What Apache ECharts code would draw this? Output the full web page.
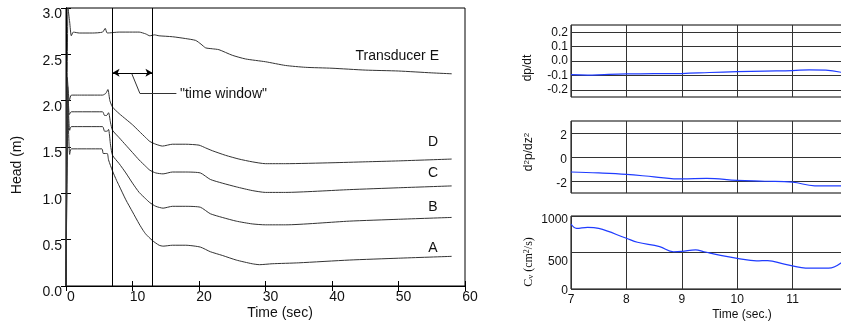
<!DOCTYPE html>
<html>
<head>
<meta charset="utf-8">
<script src="https://cdn.jsdelivr.net/npm/echarts@6/dist/echarts.min.js"></script>
<style>html,body{margin:0;padding:0;background:#fff}#chart{width:841px;height:324px}</style>
</head>
<body>
<div id="chart"></div>
<script>
// head records of the five transducers, [time (s), head (m)]
const headE = [[0,0],[0.3,3.0],[0.55,2.85],[0.8,2.70],[1.1,2.74],[2,2.73],[4,2.73],[5.5,2.74],[5.9,2.78],[6.2,2.73],[8,2.74],[10,2.74],[11,2.74],[12,2.72],[12.6,2.70],[13.3,2.71],[14,2.70],[16,2.69],[18,2.67],[19.5,2.65],[20.3,2.61],[21,2.57],[22,2.56],[23,2.55],[25,2.49],[27,2.45],[30,2.42],[33,2.38],[36,2.36],[40,2.35],[45,2.33],[50,2.32],[55,2.30],[58,2.29]];
const headD = [[0,0],[0.2,2.25],[0.5,2.0],[0.8,2.06],[2,2.06],[5.5,2.06],[6.0,2.08],[6.3,2.12],[6.6,2.0],[7,1.93],[8,1.86],[9,1.80],[10,1.74],[11,1.67],[12,1.60],[12.6,1.56],[13.5,1.53],[14.5,1.51],[16,1.53],[18,1.53],[20,1.52],[21,1.49],[22,1.46],[24,1.41],[26,1.37],[28,1.34],[30,1.32],[33,1.32],[40,1.33],[45,1.34],[50,1.35],[58,1.37]];
const headC = [[0,0],[0.25,2.15],[0.5,1.85],[0.8,1.88],[5.5,1.88],[5.8,1.84],[6.1,1.84],[6.4,1.87],[6.7,1.76],[7,1.68],[8,1.60],[9,1.52],[10,1.44],[11,1.36],[12,1.29],[12.6,1.25],[13.5,1.22],[14.6,1.21],[16,1.23],[18,1.23],[20.2,1.22],[21.7,1.15],[23.5,1.11],[25.6,1.07],[28,1.03],[30,1.01],[33,1.01],[42.6,1.04],[50,1.06],[58,1.08]];
const headB = [[0,0],[0.3,2.0],[0.55,1.68],[0.8,1.72],[5.5,1.72],[5.8,1.67],[6.2,1.67],[6.4,1.69],[6.7,1.52],[7,1.41],[8,1.32],[9,1.22],[10,1.11],[11,1.01],[12,0.94],[12.6,0.90],[13.5,0.86],[14.6,0.84],[16,0.86],[18,0.86],[20.2,0.85],[21.7,0.78],[23.5,0.74],[25.6,0.70],[28,0.67],[30,0.66],[33,0.66],[42.6,0.70],[50,0.72],[58,0.74]];
const headA = [[0,0],[0.3,1.85],[0.55,1.42],[0.8,1.48],[5.4,1.48],[5.6,1.43],[6.2,1.43],[6.4,1.36],[7,1.24],[7.6,1.14],[8,1.08],[9,0.93],[10,0.80],[11,0.67],[11.6,0.60],[12,0.56],[13,0.49],[14,0.44],[14.6,0.43],[16,0.44],[18,0.44],[20.2,0.42],[21.7,0.37],[23.5,0.33],[25.6,0.28],[28,0.24],[29.1,0.23],[31,0.24],[35,0.25],[42.6,0.28],[50,0.30],[58,0.32]];

// window analysis, [time (s), value]
const dpdt = [[7,-0.095],[7.3,-0.098],[7.6,-0.094],[8,-0.09],[8.5,-0.088],[9,-0.087],[9.5,-0.08],[10,-0.074],[10.5,-0.07],[11,-0.067],[11.3,-0.061],[11.6,-0.064],[11.9,-0.08]];
const d2pdz2 = [[7,-1.25],[7.5,-1.33],[8,-1.45],[8.5,-1.65],[9,-1.83],[9.45,-1.78],[10,-1.95],[10.5,-2.02],[11,-2.1],[11.4,-2.4],[11.9,-2.4]];
const cv = [[7,890],[7.1,830],[7.3,845],[7.5,830],[8,695],[8.2,640],[8.6,580],[8.85,510],[9,515],[9.25,535],[9.4,510],[9.7,460],[10,420],[10.35,385],[10.55,390],[10.85,340],[11.3,285],[11.65,285],[11.9,370]];

const windowBounds = [7, 13];
const arrowHead = 2.3;
const leader = [[9.9,2.29],[11.1,2.08],[16.6,2.08]];

const FONT = "'Liberation Sans', Arial, sans-serif";
const INK = '#333';
const BLUE = '#1f3cff';

const chart = echarts.init(document.getElementById('chart'));

function headLine(data, extra) {
    return Object.assign({
        type: 'line', xAxisIndex: 0, yAxisIndex: 0, data: data,
        showSymbol: false, smooth: 0.2, animation: false,
        lineStyle: {color: INK, width: 1}
    }, extra || {});
}

function gridLines(vals) {
    return {
        silent: true, symbol: 'none', animation: false,
        label: {show: false},
        lineStyle: {color: INK, type: 'solid', width: 1},
        data: vals.map(v => ({yAxis: v}))
    };
}

// right hand panels use axes 2..4
function rtLine(data, idx, marks) {
    return {
        type: 'line', xAxisIndex: idx, yAxisIndex: idx, data: data,
        showSymbol: false, smooth: 0.4, animation: false, z: 5,
        lineStyle: {color: BLUE, width: 1.2},
        markLine: marks
    };
}

const rtX = (gi, labels) => ({
    gridIndex: gi, type: 'value', min: 7, max: 12, interval: 1,
    axisLine: {show: false, onZero: false}, axisTick: {show: false},
    axisLabel: {show: labels, fontSize: 12, color: '#111', fontFamily: FONT, margin: 5},
    splitLine: {show: true, lineStyle: {color: INK, width: 1}}
});

// labels in the source sit a little below their ticks
const dropLabel = (v, txt) => '{d' + v + '|' + txt + '}';
const rich = (shifts) => {
    const r = {};
    Object.keys(shifts).forEach(k => {
        r['d' + k] = {fontSize: 12, color: '#111', fontFamily: FONT, padding: [shifts[k] * 2, 0, 0, 0]};
    });
    return r;
};

const gridBase = {show: true, borderColor: '#000', borderWidth: 1, outerBoundsMode: 'none', containLabel: false};

const option = {
    backgroundColor: '#fff',
    textStyle: {fontFamily: FONT},
    grid: [
        Object.assign({left: 66, width: 399, top: 8, height: 278}, gridBase),
        Object.assign({left: 571, width: 277, top: 25, height: 72}, gridBase),
        Object.assign({left: 571, width: 277, top: 121, height: 72}, gridBase),
        Object.assign({left: 571, width: 277, top: 216, height: 73}, gridBase)
    ],
    xAxis: [
        {gridIndex: 0, type: 'value', min: 0, max: 60, interval: 10,
         axisLine: {lineStyle: {color: '#000'}},
         axisTick: {inside: true, length: 5, lineStyle: {color: '#000'}},
         axisLabel: {fontSize: 14, color: '#111', margin: 4, padding: [0, 0, 0, 10]},
         splitLine: {show: false}},
        {gridIndex: 0, type: 'value', min: 0, max: 60, interval: 10, position: 'top',
         axisLine: {lineStyle: {color: '#000'}},
         axisTick: {inside: true, length: 5, lineStyle: {color: '#000'}},
         axisLabel: {show: false}, splitLine: {show: false}},
        rtX(1, false), rtX(2, false), rtX(3, true)
    ],
    yAxis: [
        {gridIndex: 0, type: 'value', min: 0, max: 3, interval: 0.5,
         axisLine: {lineStyle: {color: '#000'}},
         axisTick: {inside: true, length: 5, lineStyle: {color: '#000'}},
         axisLabel: {fontSize: 14, color: '#111', margin: 4,
                     formatter: v => '{a|' + v.toFixed(1) + '}',
                     rich: {a: {fontSize: 14, color: '#111', fontFamily: FONT, padding: [13, 0, 0, 0]}}},
         splitLine: {show: false}},
        {gridIndex: 0, type: 'value', min: 0, max: 3, interval: 0.5, position: 'right',
         axisLine: {lineStyle: {color: '#000'}},
         axisTick: {inside: true, length: 5, lineStyle: {color: '#000'}},
         axisLabel: {show: false}, splitLine: {show: false}},
        {gridIndex: 1, type: 'value', min: -0.25, max: 0.25,
         axisLine: {show: false, onZero: false}, axisTick: {show: false},
         axisLabel: {fontSize: 12, color: '#111', margin: 3, customValues: [-0.2, -0.1, 0, 0.1, 0.2],
                     formatter: v => v.toFixed(1)},
         splitLine: {show: false}},
        {gridIndex: 2, type: 'value', min: -3, max: 3,
         axisLine: {show: false, onZero: false}, axisTick: {show: false},
         axisLabel: {fontSize: 12, color: '#111', margin: 4, customValues: [-2, 0, 2],
                     formatter: v => '{d3|' + v + '}', rich: rich({3: 3})},
         splitLine: {show: false}},
        {gridIndex: 3, type: 'value', min: 0, max: 1000, interval: 500,
         axisLine: {show: false, onZero: false}, axisTick: {show: false},
         axisLabel: {fontSize: 12, color: '#111', margin: 3,
                     formatter: v => dropLabel(v === 500 ? 9 : (v === 0 ? 2 : 4), String(v)),
                     rich: rich({2: 2, 4: 4, 9: 9})},
         splitLine: {show: true, lineStyle: {color: INK, width: 1}}}
    ],
    series: [
        headLine(headE, {
            markLine: {
                silent: true, animation: false, symbol: 'none', label: {show: false},
                lineStyle: {color: '#000', type: 'solid', width: 1},
                data: [
                    {xAxis: windowBounds[0]},
                    {xAxis: windowBounds[1]},
                    [{coord: [windowBounds[0], arrowHead], symbol: 'arrow', symbolSize: [6, 7]},
                     {coord: [windowBounds[1], arrowHead], symbol: 'arrow', symbolSize: [6, 7]}],
                    [{coord: leader[0], lineStyle: {color: INK}}, {coord: leader[1]}],
                    [{coord: leader[1], lineStyle: {color: INK}}, {coord: leader[2]}]
                ]
            }
        }),
        headLine(headD), headLine(headC), headLine(headB), headLine(headA),
        rtLine(dpdt, 2, gridLines([0.2, 0.1, 0, -0.1, -0.2])),
        rtLine(d2pdz2, 3, gridLines([2, 0, -2])),
        rtLine(cv, 4, null)
    ],
    graphic: [
        {type: 'text', x: 17, y: 165, rotation: Math.PI / 2,
         style: {text: 'Head (m)', font: '14px ' + FONT, fill: '#111', align: 'center', verticalAlign: 'middle'}},
        {type: 'text', x: 280, y: 313,
         style: {text: 'Time (sec)', font: '14px ' + FONT, fill: '#111', align: 'center', verticalAlign: 'middle'}},
        {type: 'text', x: 180, y: 94,
         style: {text: '"time window"', font: '14px ' + FONT, fill: '#111', align: 'left', verticalAlign: 'middle'}},
        {type: 'text', x: 439, y: 56,
         style: {text: 'Transducer E', font: '14px ' + FONT, fill: '#111', align: 'right', verticalAlign: 'middle'}},
        {type: 'text', x: 433, y: 142,
         style: {text: 'D', font: '14px ' + FONT, fill: '#111', align: 'center', verticalAlign: 'middle'}},
        {type: 'text', x: 433, y: 173,
         style: {text: 'C', font: '14px ' + FONT, fill: '#111', align: 'center', verticalAlign: 'middle'}},
        {type: 'text', x: 433, y: 207,
         style: {text: 'B', font: '14px ' + FONT, fill: '#111', align: 'center', verticalAlign: 'middle'}},
        {type: 'text', x: 433, y: 248,
         style: {text: 'A', font: '14px ' + FONT, fill: '#111', align: 'center', verticalAlign: 'middle'}},
        {type: 'text', x: 742, y: 315,
         style: {text: 'Time (sec.)', font: '12px ' + FONT, fill: '#111', align: 'center', verticalAlign: 'middle'}},
        {type: 'text', x: 528, y: 68, rotation: Math.PI / 2,
         style: {text: 'dp/dt', font: '12px ' + FONT, fill: '#111', align: 'center', verticalAlign: 'middle'}},
        {type: 'text', x: 529, y: 152, rotation: Math.PI / 2,
         style: {text: 'd{s|2}p/dz{s|2}', font: '12px ' + FONT, fill: '#111', align: 'center', verticalAlign: 'middle',
                 rich: {s: {fontSize: 8, verticalAlign: 'top', fill: '#111', fontFamily: FONT}}}},
        {type: 'text', x: 529, y: 262, rotation: Math.PI / 2,
         style: {text: 'C{b|v} (cm{s|2}/s)', font: "12px 'Liberation Serif', serif", fill: '#111', align: 'center', verticalAlign: 'middle',
                 rich: {s: {fontSize: 8, verticalAlign: 'top', fill: '#111', fontFamily: "'Liberation Serif', serif"},
                        b: {fontSize: 8, verticalAlign: 'bottom', fill: '#111', fontFamily: "'Liberation Serif', serif"}}}}
    ]
};

chart.setOption(option);
</script>
</body>
</html>
